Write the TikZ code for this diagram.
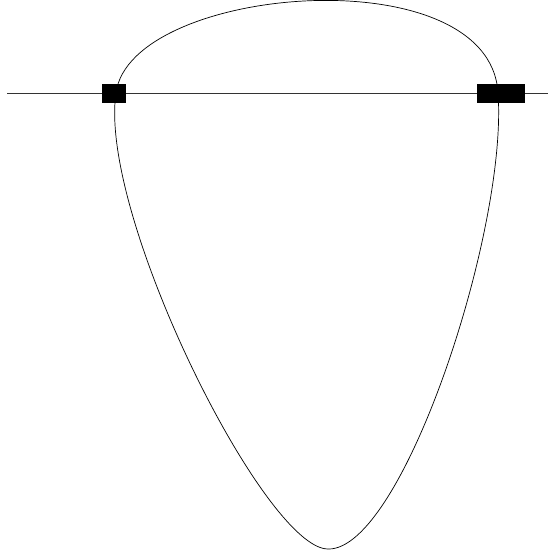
\documentclass[tikz,border=0pt]{standalone}
\usetikzlibrary{positioning}

\begin{document}
\begin{tikzpicture}[
    x=1pt, y=-1pt,
    wire/.style={line width=0.5pt, draw=black!80},
    loopline/.style={line width=0.7pt},
    clamp/.style={draw, fill=black, inner sep=0pt, minimum height=18pt},
]
    \useasboundingbox (0,0) rectangle (548,554);
    % horizontal line with the two blocks
    \coordinate (wl) at (7,93);
    \coordinate (wr) at (548,93);
    \draw[wire] (wl) -- (wr);
    \node[clamp, minimum width=23pt] (cl) at (113.5,93) {};
    \node[clamp, minimum width=47pt] (cr) at (500.5,93) {};
    % the closed loop
    \coordinate (pa) at (116,93);
    \coordinate (pb) at (498,93);
    \coordinate (pc) at (328,549);
    \draw[loopline] (pa) .. controls (130,-15) and (490,-45) .. (pb)
        .. controls (508,230) and (402,551) .. (pc)
        .. controls (265,549) and (98,215) .. cycle;
\end{tikzpicture}
\end{document}
